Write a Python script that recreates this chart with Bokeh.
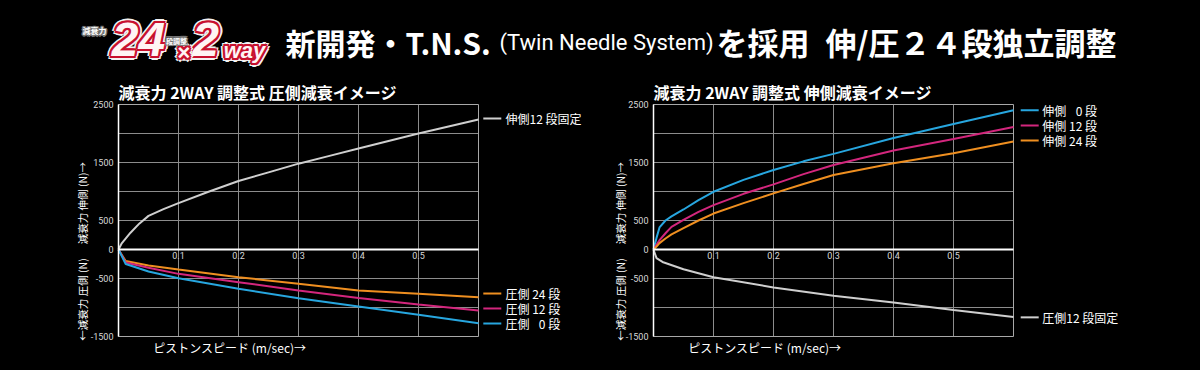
import math
from bokeh.plotting import figure
from bokeh.models import ColumnDataSource, Range1d, FixedTicker
from bokeh.layouts import column, row
from bokeh.core.properties import value
from bokeh.embed import file_html
from bokeh.resources import INLINE

# ---------------- data ----------------
# left chart : compression-side adjustment image
left_ext_speed = [0, 0.005, 0.02, 0.035, 0.05, 0.075, 0.1, 0.15, 0.2, 0.25, 0.3, 0.35, 0.4, 0.45, 0.5, 0.55, 0.6]
left_ext_fixed12 = [0, 100, 290, 450, 580, 695, 800, 995, 1180, 1330, 1480, 1610, 1740, 1870, 2000, 2120, 2240]

left_comp_speed = [0, 0.012, 0.05, 0.1, 0.2, 0.3, 0.4, 0.5, 0.6]
left_comp_24 = [0, -200, -276, -345, -477, -592, -707, -764, -822]
left_comp_12 = [0, -225, -316, -420, -563, -707, -836, -948, -1052]
left_comp_0 = [0, -250, -379, -494, -678, -839, -983, -1126, -1270]

# right chart : extension-side adjustment image
right_ext_speed = [0, 0.005, 0.01, 0.02, 0.03, 0.05, 0.075, 0.1, 0.15, 0.2, 0.25, 0.3, 0.4, 0.5, 0.6]
right_ext_0 = [0, 200, 380, 500, 570, 690, 850, 995, 1200, 1371, 1520, 1649, 1921, 2164, 2401]
right_ext_12 = [0, 80, 160, 280, 390, 510, 650, 764, 960, 1123, 1300, 1458, 1707, 1904, 2112]
right_ext_24 = [0, 50, 110, 190, 260, 370, 500, 620, 800, 967, 1130, 1285, 1488, 1661, 1863]

right_comp_speed = [0, 0.005, 0.015, 0.05, 0.1, 0.2, 0.3, 0.4, 0.5, 0.6]
right_comp_fixed12 = [0, -150, -215, -340, -480, -654, -799, -914, -1042, -1163]

# axes / ticks
speed_min, speed_max = 0.0, 0.6
force_min, force_max = -1500, 2500
x_tick_values = [0.1, 0.2, 0.3, 0.4, 0.5]
x_tick_labels = ["0.1", "0.2", "0.3", "0.4", "0.5"]
y_tick_values = [-1500, -500, 0, 500, 1500, 2500]
y_tick_labels = ["-1500", "-500", "0", "500", "1500", "2500"]
y_grid_values = [-1000, -500, 500, 1000, 1500, 2000]

# texts
header_parts = ["新開発・T.N.S.", "(Twin Needle System)", "を採用", "伸/圧２４段独立調整"]
left_title = "減衰力 2WAY 調整式 圧側減衰イメージ"
right_title = "減衰力 2WAY 調整式 伸側減衰イメージ"
up_label = "減衰力 伸側 (N)→"
down_label = "←減衰力 圧側 (N)"
x_label = "ピストンスピード (m/sec)→"
left_legend_names = ["伸側12 段固定", "圧側 24 段", "圧側 12 段", "圧側 \u20070 段"]
right_legend_names = ["伸側 \u20070 段", "伸側 12 段", "伸側 24 段", "圧側12 段固定"]

# ---------------- styles / layout ----------------
CYAN = "#27a6df"
MAGENTA = "#d3267d"
ORANGE = "#ef8f20"
LGRAY = "#cfcfcf"
GRID = "#8c8c8c"
JP = "Noto Sans CJK JP"

W, H_HEAD, H_CHART = 600, 76, 294
PX_PER_X = 600.0      # pixels per 1 m/s
PX_PER_Y = 0.058      # pixels per 1 N
ZERO_Y = 249 - H_HEAD  # zero line, in chart-figure pixels from top

left_legend_y = [2259, -759, -1017, -1276]
right_legend_y = [2400, 2140, 1880, -1170]


def make_chart(frame_left_px, title, lab_x):
    x0 = -frame_left_px / PX_PER_X
    x1 = (W - frame_left_px) / PX_PER_X
    y1 = ZERO_Y / PX_PER_Y
    y0 = -(H_CHART - ZERO_Y) / PX_PER_Y
    p = figure(width=W, height=H_CHART, x_range=Range1d(x0, x1), y_range=Range1d(y0, y1),
               min_border=0, background_fill_color="black", border_fill_color="black",
               outline_line_color=None, toolbar_location=None, output_backend="svg", title=None)
    p.grid.visible = False
    # grid lines of the plot area
    p.segment(x0=x_tick_values, y0=[force_min] * len(x_tick_values),
              x1=x_tick_values, y1=[force_max] * len(x_tick_values),
              line_color=GRID, line_width=1)
    p.segment(x0=[speed_min] * len(y_grid_values), y0=y_grid_values,
              x1=[speed_max] * len(y_grid_values), y1=y_grid_values,
              line_color=GRID, line_width=1)
    # plot-area border
    p.quad(left=[speed_min], right=[speed_max], bottom=[force_min], top=[force_max],
           fill_color=None, line_color="#a8a8a8", line_width=1)
    # x axis on the zero line
    p.xaxis.fixed_location = 0
    p.xaxis.bounds = (speed_min, speed_max)
    p.xaxis.ticker = FixedTicker(ticks=x_tick_values)
    p.xaxis.major_label_overrides = dict(zip(x_tick_values, x_tick_labels))
    p.xaxis.axis_line_color = "white"
    p.xaxis.axis_line_width = 2
    p.xaxis.major_label_standoff = 2
    p.xaxis.major_label_text_font = "Roboto"
    p.xaxis.major_label_text_font_size = "9px"
    p.xaxis.major_label_text_color = "#d8d8d8"
    # y axis on the left border
    p.yaxis.fixed_location = speed_min
    p.yaxis.bounds = (force_min, force_max)
    p.yaxis.ticker = FixedTicker(ticks=y_tick_values)
    p.yaxis.major_label_overrides = dict(zip(y_tick_values, y_tick_labels))
    p.yaxis.axis_line_color = "white"
    p.yaxis.axis_line_width = 1.5
    p.yaxis.major_label_standoff = 5
    p.yaxis.major_label_text_font = "Roboto"
    p.yaxis.major_label_text_font_size = "9px"
    p.yaxis.major_label_text_color = "#d8d8d8"
    for ax in (p.xaxis, p.yaxis):
        ax.major_tick_out = 0
        ax.major_tick_in = 0
        ax.minor_tick_out = 0
        ax.minor_tick_in = 0
    # chart title and axis titles
    p.text(x=[speed_min], y=[2710], text=[title], text_font=value(JP), text_font_style="bold",
           text_font_size="16px", text_color="white", text_align="left", text_baseline="middle")
    p.text(x=[lab_x, lab_x], y=[800, -862], text=[up_label, down_label], angle=math.pi / 2,
           text_font=value(JP), text_font_size="10.5px", text_color="white",
           text_align="center", text_baseline="middle")
    p.text(x=[0.058], y=[-1690], text=[x_label], text_font=value(JP), text_font_size="12px",
           text_color="white", text_align="left", text_baseline="middle")
    return p


def legend_items(p, xa, xb, xt, ys, colors, names):
    p.segment(x0=[xa] * len(ys), y0=ys, x1=[xb] * len(ys), y1=ys, line_color=colors, line_width=2)
    p.text(x=[xt] * len(ys), y=ys, text=names, text_font=value(JP), text_font_size="12px",
           text_color="white", text_align="left", text_baseline="middle")


# ---------------- left chart ----------------
pl = make_chart(118, left_title, -0.06)
pl.line(left_ext_speed, left_ext_fixed12, line_color=LGRAY, line_width=2)
pl.line(left_comp_speed, left_comp_24, line_color=ORANGE, line_width=2)
pl.line(left_comp_speed, left_comp_12, line_color=MAGENTA, line_width=2)
pl.line(left_comp_speed, left_comp_0, line_color=CYAN, line_width=2)
legend_items(pl, 0.608, 0.638, 0.645, left_legend_y, [LGRAY, ORANGE, MAGENTA, CYAN], left_legend_names)

# ---------------- right chart ----------------
pr = make_chart(653 - W, right_title, -0.055)
pr.line(right_ext_speed, right_ext_0, line_color=CYAN, line_width=2)
pr.line(right_ext_speed, right_ext_12, line_color=MAGENTA, line_width=2)
pr.line(right_ext_speed, right_ext_24, line_color=ORANGE, line_width=2)
pr.line(right_comp_speed, right_comp_fixed12, line_color=LGRAY, line_width=2)
legend_items(pr, 0.612, 0.642, 0.648, right_legend_y, [CYAN, MAGENTA, ORANGE, LGRAY], right_legend_names)

# ---------------- header ----------------
ph = figure(width=2 * W, height=H_HEAD, x_range=Range1d(0, 2 * W), y_range=Range1d(H_HEAD, 0),
            min_border=0, background_fill_color="black", border_fill_color="black",
            outline_line_color=None, toolbar_location=None, output_backend="svg",
            x_axis_location=None, y_axis_location=None, title=None)
ph.grid.visible = False

hx = [285, 499, 716, 825]
h_sizes = ["30px", "22px", "31px", "31px"]
for i, (txt, xp, fs) in enumerate(zip(header_parts, hx, h_sizes)):
    if i == 1:
        ph.text(x=[xp], y=[42], text=[txt], text_font=value("Roboto"), text_font_size=fs,
                text_color="white", text_baseline="middle", text_align="left")
    else:
        ph.text(x=[xp], y=[41], text=[txt], text_font=value(JP), text_font_style="bold",
                text_font_size=fs, text_color="white", text_baseline="middle", text_align="left")


def outlined(p, x, y, txt, size, font, style, rings):
    for r, col in rings:
        if r > 0:
            offs = [(r * math.cos(a * math.pi / 4), r * math.sin(a * math.pi / 4)) for a in range(8)]
        else:
            offs = [(0, 0)]
        src = ColumnDataSource(dict(x=[x] * len(offs), y=[y] * len(offs), t=[txt] * len(offs),
                                    xo=[o[0] for o in offs], yo=[o[1] for o in offs]))
        p.text(x="x", y="y", text="t", x_offset="xo", y_offset="yo", source=src,
               text_font=value(font), text_font_style=style, text_font_size=size,
               text_color=col, text_align="center", text_baseline="middle")


logo_rings = [(4, "#f2f2f2"), (2.2, "#c8102e"), (0, "#fff4f4")]
outlined(ph, 138, 39, "24", "48px", "Liberation Sans", "bold italic", logo_rings)
outlined(ph, 205, 39, "2", "48px", "Liberation Sans", "bold italic", logo_rings)
outlined(ph, 244, 50, "way", "22px", "Liberation Sans", "bold italic", logo_rings)
outlined(ph, 183, 52, "×", "22px", "Liberation Sans", "bold italic", logo_rings)
badge_rings = [(1.5, "#777777"), (0, "white")]
outlined(ph, 94, 30, "減衰力", "8px", JP, "bold", badge_rings)
outlined(ph, 176, 40, "段調整", "7px", JP, "bold", badge_rings)

layout = column(ph, row(pl, pr))

template = """{% block postamble %}<style>html, body { background: #000000; }</style>{% endblock %}"""
open("out.html", "w").write(file_html(layout, INLINE, template=template))
